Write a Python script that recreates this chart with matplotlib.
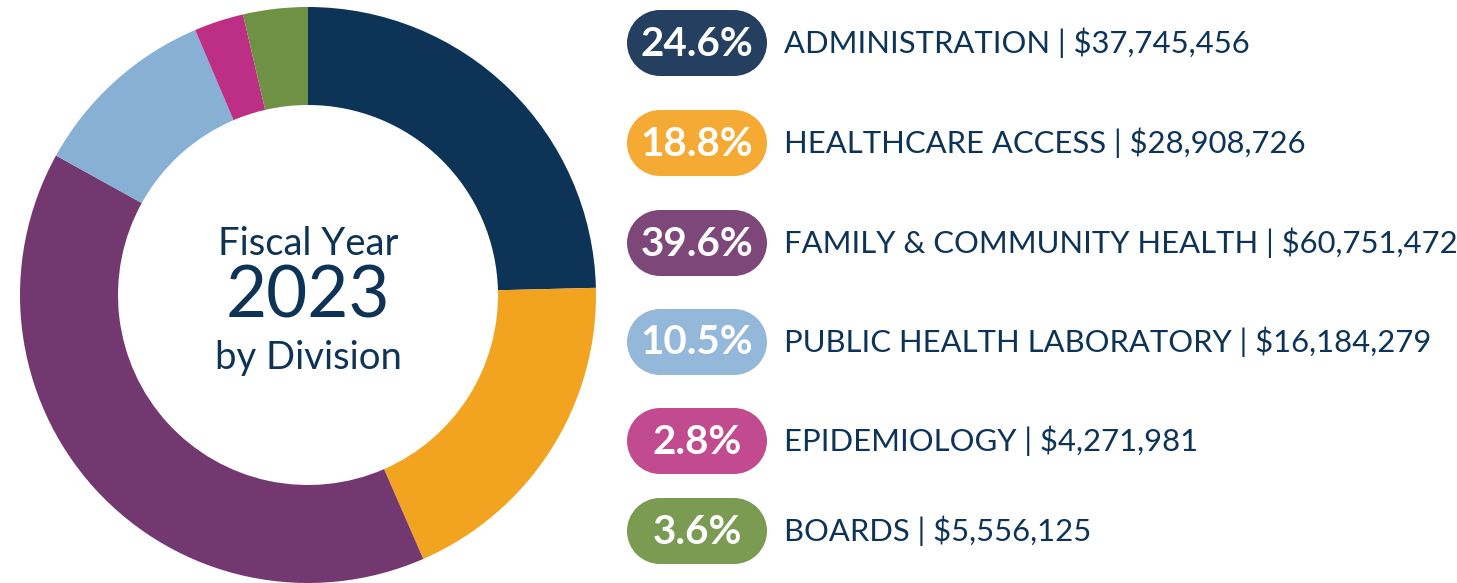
import matplotlib
matplotlib.use('Agg')
import matplotlib.pyplot as plt
from matplotlib.patches import Rectangle, Circle

# Datos del gráfico
divisiones = ['ADMINISTRATION', 'HEALTHCARE ACCESS', 'FAMILY & COMMUNITY HEALTH',
              'PUBLIC HEALTH LABORATORY', 'EPIDEMIOLOGY', 'BOARDS']
montos = [37745456, 28908726, 60751472, 16184279, 4271981, 5556125]
porcentajes = ['24.6%', '18.8%', '39.6%', '10.5%', '2.8%', '3.6%']
colores = ['#0D3357', '#F2A31F', '#733870', '#87B0D4', '#BC2F85', '#6F9144']
colores_pastilla = ['#243F60', '#F4AA33', '#7D4779', '#93B8DA', '#C24A8E', '#7B9A52']
texto_color = '#0D3357'

W, H = 1457, 583
fig = plt.figure(figsize=(W / 100, H / 100), dpi=100)
ax = fig.add_axes([0, 0, 1, 1])

# Donut
cx, cy, r = 308, H - 295, 288
ax.pie(montos, colors=colores, startangle=90, counterclock=False,
       center=(cx, cy), radius=r,
       wedgeprops=dict(width=98, edgecolor='none', linewidth=0))

ax.set_xlim(0, W)
ax.set_ylim(0, H)
ax.set_aspect('equal')
ax.axis('off')

# Texto central
fuente = 'Lato'
ax.text(cx, H - 244, 'Fiscal Year', ha='center', va='center',
        fontsize=27.5, color=texto_color, family=fuente)
ax.text(cx, H - 297, '2023', ha='center', va='center',
        fontsize=51, color=texto_color, family=fuente)
ax.text(cx, H - 358, 'by Division', ha='center', va='center',
        fontsize=27.5, color=texto_color, family=fuente)

# Leyenda con pastillas
filas_y = [43, 143, 243, 342, 441, 531]
x0, ancho, alto = 627, 140, 66
for div, monto, pct, col, yy in zip(divisiones, montos, porcentajes, colores_pastilla, filas_y):
    yc = H - yy
    rr = alto / 2
    ax.add_patch(Rectangle((x0 + rr, yc - rr), ancho - alto, alto, facecolor=col, edgecolor='none'))
    ax.add_patch(Circle((x0 + rr, yc), rr, facecolor=col, edgecolor='none'))
    ax.add_patch(Circle((x0 + ancho - rr, yc), rr, facecolor=col, edgecolor='none'))
    ax.text(x0 + ancho / 2, yc - 1, pct, ha='center', va='center', fontsize=29,
            color='white', family=fuente, fontweight='bold')
    ax.text(784, yc, f'{div} | ${monto:,}', ha='left', va='center',
            fontsize=22.3, color=texto_color, family=fuente)

fig.savefig('out.png', dpi=100, facecolor='white')
